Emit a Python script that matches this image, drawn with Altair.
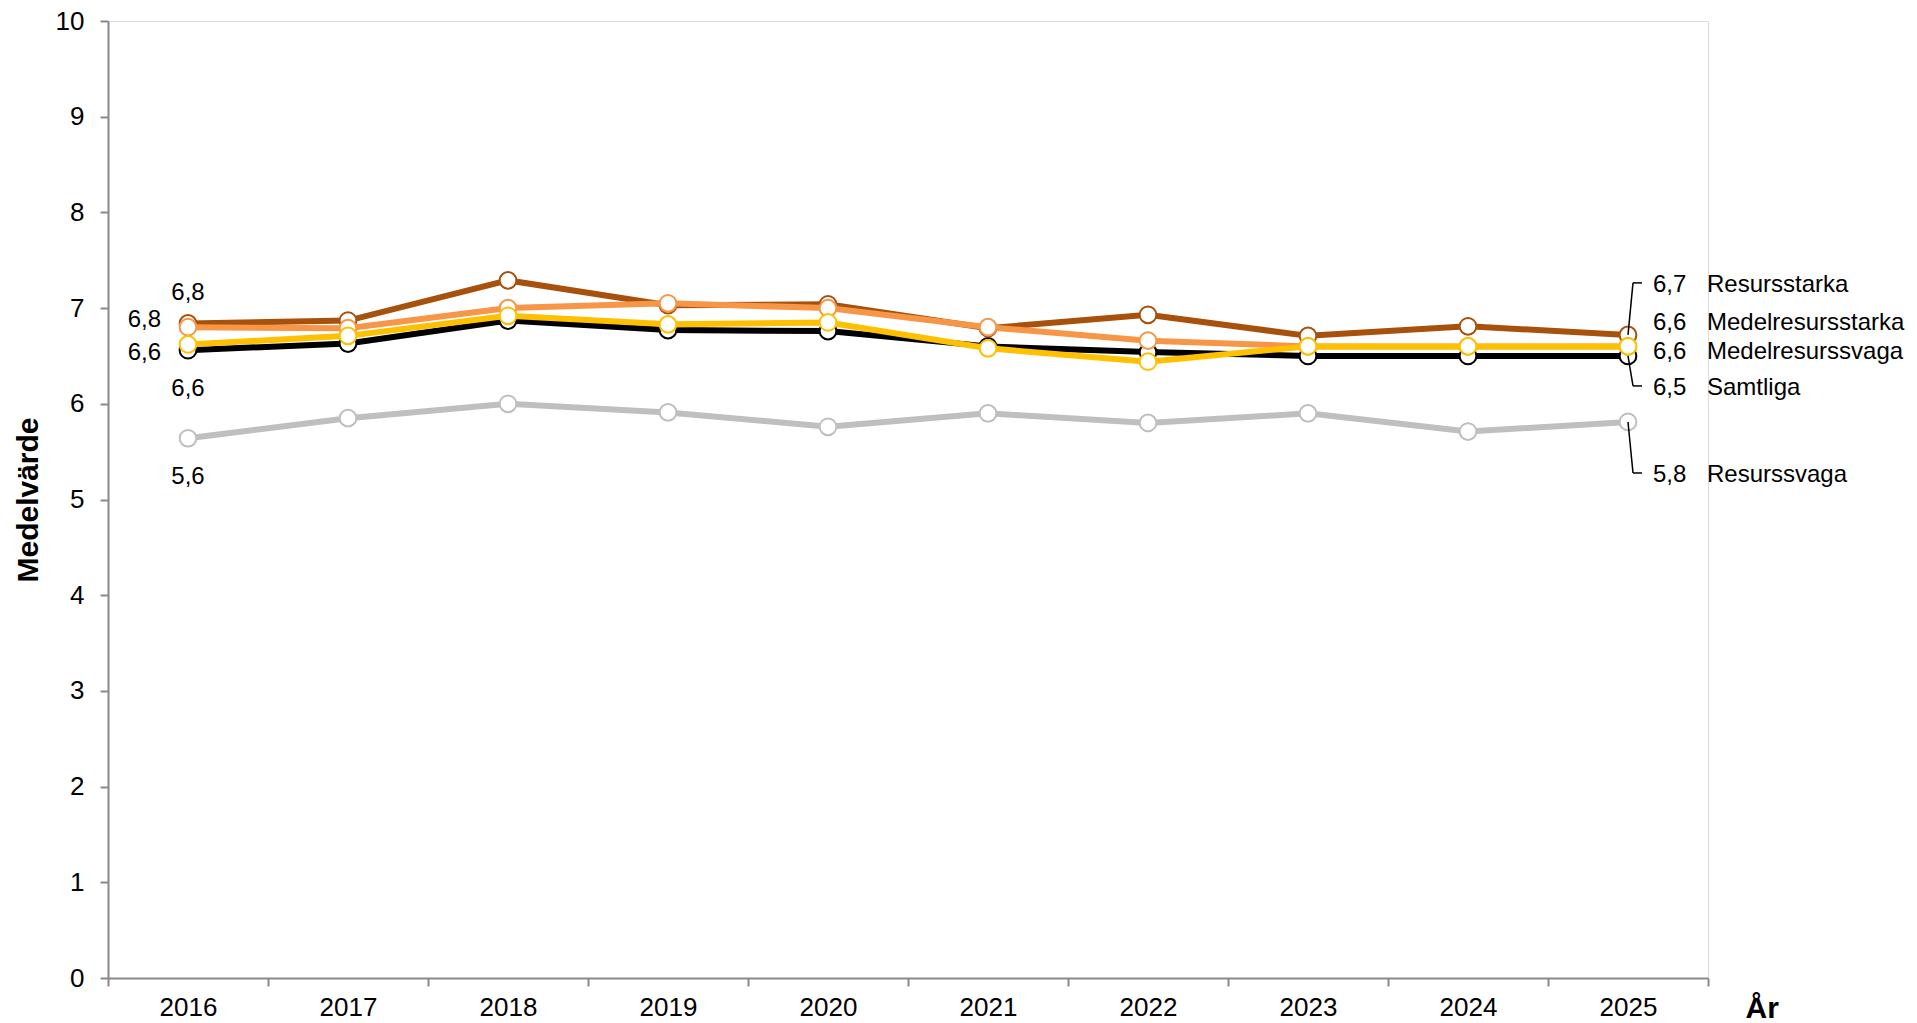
import altair as alt
import pandas as pd

# ---- data ----
years = ["2016", "2017", "2018", "2019", "2020", "2021", "2022", "2023", "2024", "2025"]
series_names = ["Resurssvaga", "Samtliga", "Resursstarka", "Medelresursstarka", "Medelresurssvaga"]
resurssvaga = [5.64, 5.85, 6.00, 5.91, 5.76, 5.90, 5.80, 5.90, 5.71, 5.81]
samtliga = [6.56, 6.63, 6.87, 6.77, 6.76, 6.60, 6.54, 6.50, 6.50, 6.50]
resursstarka = [6.84, 6.87, 7.29, 7.03, 7.04, 6.79, 6.93, 6.71, 6.81, 6.72]
medelresursstarka = [6.80, 6.79, 7.00, 7.05, 7.00, 6.80, 6.66, 6.60, 6.60, 6.60]
medelresurssvaga = [6.62, 6.71, 6.92, 6.83, 6.85, 6.58, 6.44, 6.60, 6.60, 6.60]
y_ticks = [0, 1, 2, 3, 4, 5, 6, 7, 8, 9, 10]
title_text = "MELLANMÄNSKLIG TILLIT: ALLMÄNHET"

values = {
    "Resurssvaga": resurssvaga,
    "Samtliga": samtliga,
    "Resursstarka": resursstarka,
    "Medelresursstarka": medelresursstarka,
    "Medelresurssvaga": medelresurssvaga,
}

# ---- styles ----
colors = {
    "Resurssvaga": "#BFBFBF",
    "Samtliga": "#000000",
    "Resursstarka": "#A8510C",
    "Medelresursstarka": "#F79646",
    "Medelresurssvaga": "#FFC000",
}
# label layout (pixel offsets from the first / last point)
left_layout = {
    "Resursstarka": (0, -30, "center"),
    "Medelresursstarka": (-27, -7, "right"),
    "Medelresurssvaga": (-27, 9, "right"),
    "Samtliga": (0, 39, "center"),
    "Resurssvaga": (0, 39, "center"),
}
right_dy = {
    "Resursstarka": -50,
    "Medelresursstarka": -23,
    "Medelresurssvaga": 6,
    "Samtliga": 32,
    "Resurssvaga": 53,
}
leader_series = ["Resursstarka", "Samtliga", "Resurssvaga"]

FONT = "Liberation Sans"
W, H = 1600, 957


def fmt(v):
    return f"{v:.1f}".replace(".", ",")


rows = []
for s in series_names:
    for yr, v in zip(years, values[s]):
        rows.append({"year": yr, "series": s, "value": v, "label": fmt(v)})
df = pd.DataFrame(rows)

x_enc = alt.X(
    "year:N",
    sort=years,
    scale=alt.Scale(type="band", paddingInner=0, paddingOuter=0),
    axis=alt.Axis(
        title="År",
        titleFont=FONT,
        titleFontSize=30,
        titleFontWeight="bold",
        titleColor="#000000",
        titleX=W + 37,
        titleY=30,
        titleAlign="left",
        titleBaseline="middle",
        labelAngle=0,
        labelFont=FONT,
        labelFontSize=26,
        labelColor="#000000",
        labelPadding=8,
        tickBand="extent",
        tickSize=8,
        tickColor="#898989",
        tickWidth=2,
        domainColor="#898989",
        domainWidth=2,
        grid=False,
    ),
)
y_enc = alt.Y(
    "value:Q",
    scale=alt.Scale(domain=[0, 10], nice=False, zero=True),
    axis=alt.Axis(
        title="Medelvärde",
        titleFont=FONT,
        titleFontSize=30,
        titleFontWeight="bold",
        titleColor="#000000",
        titleX=-80,
        titleY=H / 2,
        titleAngle=-90,
        titleAlign="center",
        titleBaseline="middle",
        values=y_ticks,
        labelFont=FONT,
        labelFontSize=26,
        labelColor="#000000",
        labelPadding=16,
        tickSize=8,
        tickColor="#898989",
        tickWidth=2,
        domainColor="#898989",
        domainWidth=2,
        grid=False,
    ),
)

base = alt.Chart(df)
layers = []
for s in series_names:
    sub = base.transform_filter(alt.datum.series == s)
    layers.append(
        sub.mark_line(color=colors[s], strokeWidth=6).encode(x=x_enc, y=y_enc)
    )
    layers.append(
        sub.mark_point(
            shape="circle", filled=True, fill="#FFFFFF", stroke=colors[s],
            strokeWidth=2, size=280, opacity=1
        ).encode(x=x_enc, y=y_enc)
    )

# left labels (first year)
for s in series_names:
    dx, dy, align = left_layout[s]
    layers.append(
        base.transform_filter((alt.datum.series == s) & (alt.datum.year == years[0]))
        .mark_text(font=FONT, fontSize=24, color="#000000", dx=dx, dy=dy,
                   align=align, baseline="middle")
        .encode(x=x_enc, y=y_enc, text="label:N")
    )

# right labels (last year) with leader lines
for s in series_names:
    dy = right_dy[s]
    last = base.transform_filter((alt.datum.series == s) & (alt.datum.year == years[-1]))
    layers.append(
        last.mark_text(font=FONT, fontSize=24, color="#000000", dx=25, dy=dy,
                       align="left", baseline="middle")
        .encode(x=x_enc, y=y_enc, text="label:N")
    )
    layers.append(
        last.mark_text(font=FONT, fontSize=24, color="#000000", dx=79, dy=dy,
                       align="left", baseline="middle")
        .encode(x=x_enc, y=y_enc, text="series:N")
    )
    if s in leader_series:
        ldy = dy - 2
        layers.append(
            last.mark_rule(color="#000000", strokeWidth=1.5, x2Offset=5, y2Offset=ldy)
            .encode(x=x_enc, y=y_enc, x2="year:N", y2="value:Q")
        )
        layers.append(
            last.mark_rule(color="#000000", strokeWidth=1.5, xOffset=5, x2Offset=14,
                           yOffset=ldy, y2Offset=ldy)
            .encode(x=x_enc, y=y_enc, x2="year:N", y2="value:Q")
        )

chart = (
    alt.layer(*layers)
    .properties(
        width=W,
        height=H,
        autosize=alt.AutoSizeParams(type="none"),
        padding={"left": 100, "top": 13, "right": 200, "bottom": 44},
        title=alt.TitleParams(
            text=title_text,
            font=FONT,
            fontSize=48,
            fontWeight="bold",
            color="#000000",
            anchor="middle",
            baseline="alphabetic",
            offset=11,
            dx=69,
        ),
    )
    .configure_view(stroke=None)
    .configure(background="#FFFFFF")
)

chart.save("out.html", embed_options={"renderer": "svg", "actions": False})
